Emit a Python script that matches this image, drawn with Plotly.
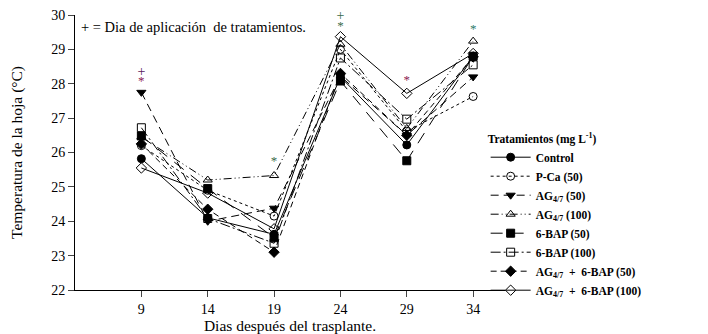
import plotly.graph_objects as go

days = [9, 14, 19, 24, 29, 34]
x_ticks = [9, 14, 19, 24, 29, 34]
y_ticks = [22, 23, 24, 25, 26, 27, 28, 29, 30]

control = [25.82, 24.10, 23.62, 28.20, 26.22, 28.80]
pca_50 = [26.20, 24.90, 24.15, 29.00, 26.62, 27.63]
ag_50 = [27.75, 24.00, 24.38, 28.22, 26.50, 28.20]
ag_100 = [26.45, 25.20, 25.33, 29.15, 26.70, 29.24]
bap_50 = [26.48, 24.95, 23.52, 28.08, 25.76, 28.80]
bap_100 = [26.72, 24.08, 23.36, 28.75, 26.97, 28.55]
agbap_50 = [26.25, 24.35, 23.10, 28.30, 26.50, 28.78]
agbap_100 = [25.55, 24.82, 23.78, 29.37, 27.72, 28.88]

series_names = [
    "Control", "P-Ca (50)", "AG<sub>4/7</sub> (50)", "AG<sub>4/7</sub> (100)",
    "6-BAP (50)", "6-BAP (100)", "AG<sub>4/7</sub>  +  6-BAP (50)",
    "AG<sub>4/7</sub>  +  6-BAP (100)",
]
series_values = [control, pca_50, ag_50, ag_100, bap_50, bap_100, agbap_50, agbap_100]

# significance marks
star_days = [9, 19, 24, 29, 34]
star_y = [28.07, 25.73, 29.66, 28.10, 29.57]
star_colors = ["#8b2252", "#3a6b4a", "#3a6b4a", "#8b2252", "#2e7a6a"]
plus_days = [9, 24]
plus_y = [28.12, 29.74]
plus_colors = ["#5a1a5a", "#3a6b4a"]

styles = [
    dict(dash="solid", symbol="circle"),
    dict(dash="dot", symbol="circle-open"),
    dict(dash="8px,5px", symbol="triangle-down"),
    dict(dash="8px,3px,1px,3px,1px,3px", symbol="triangle-up-open"),
    dict(dash="12px,9px", symbol="square"),
    dict(dash="10px,3px,2px,3px", symbol="square-open"),
    dict(dash="6px,4px", symbol="diamond"),
    dict(dash="solid", symbol="diamond-open"),
]

fig = go.Figure()
for name, vals, st in zip(series_names, series_values, styles):
    fig.add_trace(go.Scatter(
        x=days, y=vals, name=name, mode="lines+markers",
        line=dict(color="black", width=1, dash=st["dash"]),
        marker=dict(symbol=st["symbol"], size=8, color="black",
                    line=dict(color="black", width=1)),
    ))

fig.add_trace(go.Scatter(
    x=star_days, y=star_y, mode="text", text=["*"] * len(star_days),
    textfont=dict(family="Liberation Serif", size=13, color=star_colors),
    showlegend=False, hoverinfo="skip", cliponaxis=False))
fig.add_trace(go.Scatter(
    x=plus_days, y=plus_y, mode="text", text=["+"] * len(plus_days),
    textposition="top center",
    textfont=dict(family="Liberation Serif", size=14, color=plus_colors),
    showlegend=False, hoverinfo="skip", cliponaxis=False))

fig.add_annotation(
    xref="paper", yref="paper", x=0.012, y=0.99, xanchor="left", yanchor="top",
    text="+ = Dia de aplicación  de tratamientos.", showarrow=False, borderpad=0,
    font=dict(family="Liberation Serif", size=14.5, color="black"))

# page body adds an 8px offset, so the figure is 8px smaller than the window
fig.update_layout(
    width=700, height=326,
    margin=dict(l=67, r=203, t=7, b=44, autoexpand=False),
    paper_bgcolor="white", plot_bgcolor="white",
    font=dict(family="Liberation Serif", size=14, color="black"),
    showlegend=True,
    legend=dict(
        x=0.955, y=0.59, xanchor="left", yanchor="top",
        xref="paper", yref="paper",
        title=dict(text="Tratamientos (mg L<sup>-1</sup>)",
                   font=dict(family="Liberation Serif", size=11.5, weight="bold")),
        font=dict(family="Liberation Serif", size=11.5, weight="bold"),
        bgcolor="rgba(0,0,0,0)", itemwidth=40, tracegroupgap=0,
    ),
    xaxis=dict(
        range=[4, 36.4], tickvals=x_ticks, ticks="outside", ticklen=6,
        showline=True, linecolor="black", linewidth=1, showgrid=False,
        zeroline=False, mirror=False, automargin=False,
        tickfont=dict(size=14), ticklabeloverflow="allow",
        title=dict(text="Dias después del trasplante.", standoff=6,
                   font=dict(size=15.5)),
    ),
    yaxis=dict(
        range=[22, 30], tickvals=y_ticks, ticks="outside", ticklen=6,
        showline=True, linecolor="black", linewidth=1, showgrid=False,
        zeroline=False, automargin=False,
        tickfont=dict(size=14), ticklabeloverflow="allow",
        title=dict(text="Temperatura de la hoja (°C)", standoff=31,
                   font=dict(size=15.5)),
    ),
)

fig.write_html("out.html")
